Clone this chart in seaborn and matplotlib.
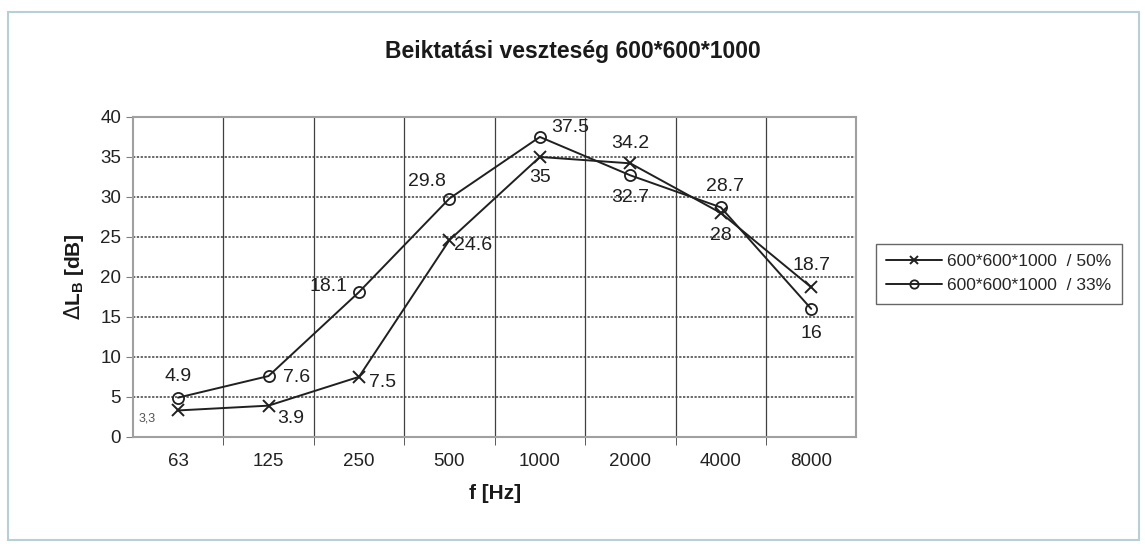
import pandas as pd
import numpy as np
import seaborn as sns
from matplotlib import pyplot as plt
from matplotlib.patches import Rectangle

# data
freqs = ['63', '125', '250', '500', '1000', '2000', '4000', '8000']
vals_50 = [3.3, 3.9, 7.5, 24.6, 35, 34.2, 28, 18.7]
vals_33 = [4.9, 7.6, 18.1, 29.8, 37.5, 32.7, 28.7, 16]
names = ['600*600*1000  / 50%', '600*600*1000  / 33%']

df50 = pd.DataFrame({'f': freqs, 'dL': vals_50})
df33 = pd.DataFrame({'f': freqs, 'dL': vals_33})

sns.set_style('white')
plt.rcParams['font.family'] = ['Liberation Sans', 'DejaVu Sans']

fig = plt.figure(figsize=(11.45, 5.44), dpi=100)
ax = fig.add_axes([0.116, 0.197, 0.632, 0.588])

# outer chart border
fig.patches.append(Rectangle((0.007, 0.008), 0.988, 0.97, transform=fig.transFigure,
                             fill=False, edgecolor='#b9cfd6', linewidth=1.5))

sns.lineplot(data=df50, x='f', y='dL', marker='x', color='#202020', linewidth=1.4, ax=ax,
             markersize=8, markeredgewidth=1.4, sort=False, label=names[0],
             markeredgecolor='#202020')
sns.lineplot(data=df33, x='f', y='dL', marker='o', color='#202020', linewidth=1.4, ax=ax,
             markersize=8, markeredgewidth=1.3, sort=False, label=names[1],
             markerfacecolor='none', markeredgecolor='#202020')

ax.set_xlim(-0.5, 7.5)
ax.set_ylim(0, 40)
ax.set_yticks(np.arange(0, 41, 5))
ax.set_xticks(range(len(freqs)))
ax.set_xticklabels(freqs)
ax.set_xticks(np.arange(0.5, 7, 1), minor=True)
ax.tick_params(axis='x', which='major', length=0, labelsize=13.5, pad=12, labelcolor='#222222')
ax.tick_params(axis='x', which='minor', length=6, direction='out', color='#404040', bottom=True)
ax.tick_params(axis='y', labelsize=13.5, length=5, direction='out', left=True, color='#808080',
               labelcolor='#222222')

ax.grid(axis='y', which='major', linestyle=(0, (1.5, 1)), color='#404040', linewidth=1.1)
ax.grid(axis='x', which='minor', linestyle='-', color='#404040', linewidth=0.9)
ax.grid(axis='x', which='major', visible=False)
for s in ax.spines.values():
    s.set_color('#a0a0a0')
    s.set_linewidth(1.5)

# value labels (offsets in points)
off_50 = [(-22, -6), (16, -9), (17, -4), (17, -4), (0, -15), (0, 14), (0, -16), (0, 16)]
off_33 = [(0, 15), (20, -1), (-22, 4), (-16, 12), (22, 7), (0, -16), (3, 15), (0, -18)]
for i, v in enumerate(vals_50):
    if i == 0:
        ax.annotate('3,3', (i, v), textcoords='offset points', xytext=off_50[i],
                    ha='center', va='center', fontsize=9, color='#555555')
    else:
        ax.annotate(f'{v:g}', (i, v), textcoords='offset points', xytext=off_50[i],
                    ha='center', va='center', fontsize=14, color='#202020')
for i, v in enumerate(vals_33):
    ax.annotate(f'{v:g}', (i, v), textcoords='offset points', xytext=off_33[i],
                ha='center', va='center', fontsize=14, color='#202020')

fig.text(0.5, 0.905, 'Beiktatási veszteség 600*600*1000', fontsize=16.5, fontweight='bold',
         ha='center', va='center', color='#1a1a1a')
ax.set_xlabel('f [Hz]', fontsize=15, fontweight='bold', labelpad=10, color='#1a1a1a')
ax.set_ylabel(r'$\Delta$L$_\mathregular{B}$ [dB]', fontsize=15, fontweight='bold', labelpad=10,
              color='#1a1a1a')

leg = ax.legend(loc='center left', bbox_to_anchor=(1.015, 0.51), frameon=True, fontsize=12.5,
                fancybox=False, edgecolor='#404040', handlelength=3.2, borderpad=0.6,
                labelspacing=0.5, handletextpad=0.3)
leg.get_frame().set_linewidth(1.0)
for h in leg.legend_handles:
    h.set_markerfacecolor('none')
    h.set_markeredgecolor('#202020')
    h.set_markersize(6)

plt.savefig('out.png', dpi=100)
